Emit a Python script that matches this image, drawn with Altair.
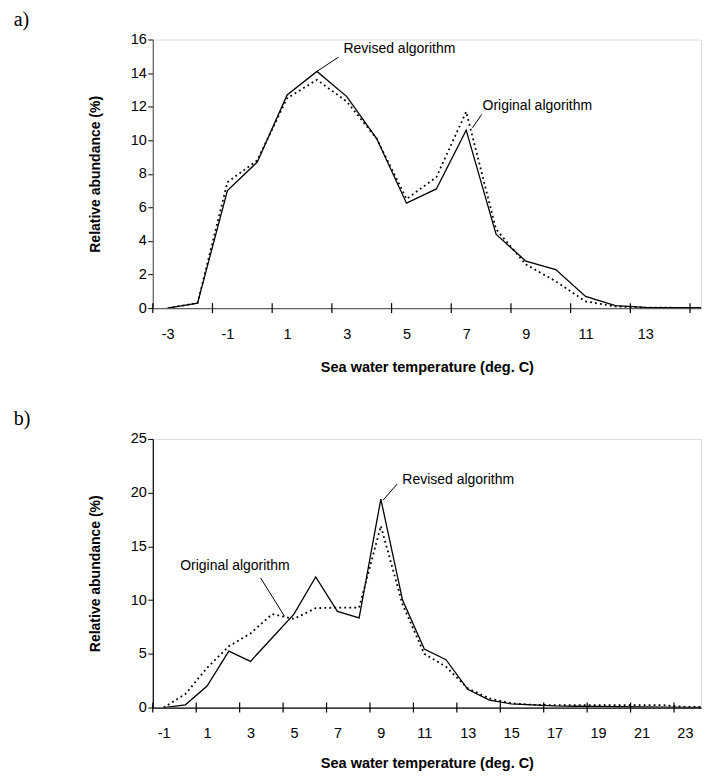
import altair as alt
import pandas as pd

# ---------------- Panel a ----------------
temp_a = list(range(-3, 16))
revised_a = [0.0, 0.3, 7.0, 8.7, 12.7, 14.1, 12.6, 10.1, 6.25, 7.1, 10.6, 4.4,
             2.8, 2.3, 0.7, 0.15, 0.05, 0.03, 0.02]
original_a = [0.0, 0.3, 7.5, 8.8, 12.5, 13.6, 12.3, 10.1, 6.5, 7.8, 11.7, 4.7,
              2.6, 1.6, 0.4, 0.1, 0.03, 0.02, 0.02]
xlabels_a = list(range(-3, 16, 2))
yticks_a = list(range(0, 17, 2))

ann_a_text = ["Revised algorithm", "Original algorithm"]
ann_a_t = [2.89, 7.55]
ann_a_v = [15.41, 12.03]
lead_a_t1 = [2.0, 7.21]
lead_a_v1 = [14.1, 10.74]
lead_a_t2 = [2.72, 7.52]
lead_a_v2 = [14.95, 11.54]

# ---------------- Panel b ----------------
temp_b = list(range(-1, 25))
revised_b = [0.0, 0.25, 2.0, 5.25, 4.3, 6.5, 8.7, 12.15, 8.95, 8.35, 19.4, 10.0,
             5.45, 4.45, 1.7, 0.7, 0.35, 0.25, 0.15, 0.12, 0.1, 0.08, 0.05, 0.03,
             0.02, 0.02]
original_b = [0.0, 1.25, 3.7, 5.7, 6.9, 8.7, 8.25, 9.25, 9.3, 9.3, 16.9, 9.6,
              5.0, 3.8, 1.8, 0.85, 0.4, 0.25, 0.22, 0.22, 0.22, 0.22, 0.22, 0.22,
              0.05, 0.05]
xlabels_b = list(range(-1, 24, 2))
yticks_b = list(range(0, 26, 5))

ann_b_text = ["Revised algorithm", "Original algorithm"]
ann_b_t = [9.99, -0.24]
ann_b_v = [21.19, 13.13]
lead_b_t1 = [9.1, 3.46]
lead_b_v1 = [19.3, 12.07]
lead_b_t2 = [9.75, 4.57]
lead_b_v2 = [20.8, 8.48]

FONT = "Liberation Sans"
XTITLE = "Sea water temperature (deg. C)"
YTITLE = "Relative abundance (%)"
FS = 14
PLOT_W = 549
PLOT_H = 269


def panel(temps, rev, orig, xlabels, yticks, ann, leads, letter, cat_w,
          dom_color, title_y):
    n = len(temps)
    df = pd.DataFrame({
        "t": temps + temps,
        "v": rev + orig,
        "s": ["Revised"] * n + ["Original"] * n,
    })
    lo = temps[0] - 0.5
    hi = lo + PLOT_W / cat_w          # right end cropped as in the source
    xscale = alt.Scale(domain=[lo, hi], nice=False, zero=False)
    yscale = alt.Scale(domain=[0, yticks[-1]], nice=False)

    xaxis = alt.Axis(
        values=xlabels, tickCount=200, ticks=False,
        labelExpr="'' + datum.value",
        domainColor=dom_color, domainWidth=1.2,
        labelOverlap=False, labelFlush=False, labelBound=False,
        labelPadding=26, labelBaseline="middle", labelFontSize=14.5,
        labelFont=FONT, labelColor="black", grid=False,
        titleFont=FONT, titleFontSize=14.5, titleFontWeight="bold",
        titleColor="black", titleBaseline="middle", titleY=title_y,
    )
    yaxis = alt.Axis(
        values=yticks, tickCount=200, format="d", labelOverlap=False,
        tickSize=5, tickColor="black", domainColor=dom_color, domainWidth=1.2,
        labelPadding=1.5, labelFontSize=14.5, labelFont=FONT, labelColor="black",
        grid=False,
        titleFont=FONT, titleFontSize=FS, titleFontWeight="bold",
        titleColor="black", titleBaseline="middle", titleX=-57,
        titleY=PLOT_H / 2, titleAngle=-90,
    )

    base = alt.Chart(df)
    solid = base.transform_filter(alt.datum.s == "Revised").mark_line(
        color="black", strokeWidth=1.3, clip=True).encode(
        x=alt.X("t:Q", scale=xscale, axis=xaxis, title=XTITLE),
        y=alt.Y("v:Q", scale=yscale, axis=yaxis, title=YTITLE))
    dotted = base.transform_filter(alt.datum.s == "Original").mark_line(
        color="black", strokeWidth=1.8, strokeDash=[1.8, 3.2], clip=True).encode(
        x="t:Q", y="v:Q")

    # category-boundary tick marks crossing the x axis (Excel style)
    tdf = pd.DataFrame({"t": [l - 0.5 for l in xlabels], "v": [0] * len(xlabels)})
    xticks = alt.Chart(tdf).mark_tick(
        orient="vertical", size=10, thickness=1.2, color="black", opacity=1
    ).encode(x="t:Q", y="v:Q")

    adf = pd.DataFrame({"t": ann[1], "v": ann[2], "label": ann[0]})
    texts = alt.Chart(adf).mark_text(
        align="left", baseline="middle", font=FONT, fontSize=FS, color="black"
    ).encode(x="t:Q", y="v:Q", text="label:N")

    ldf = pd.DataFrame({"t": leads[0], "v": leads[1], "t2": leads[2], "v2": leads[3]})
    rules = alt.Chart(ldf).mark_rule(color="black", strokeWidth=1).encode(
        x="t:Q", y="v:Q", x2="t2:Q", y2="v2:Q")

    let = alt.Chart(pd.DataFrame({"l": [letter]})).mark_text(
        align="left", baseline="top", font="Liberation Serif", fontSize=20,
        color="black"
    ).encode(x=alt.value(-139.3), y=alt.value(-30), text="l:N")

    return alt.layer(solid, dotted, xticks, rules, texts, let).properties(
        width=PLOT_W, height=PLOT_H)


pa = panel(temp_a, revised_a, original_a, xlabels_a, yticks_a,
           (ann_a_text, ann_a_t, ann_a_v),
           (lead_a_t1, lead_a_v1, lead_a_t2, lead_a_v2),
           "a)", 29.89, "#606060", 59.5)
pb = panel(temp_b, revised_b, original_b, xlabels_b, yticks_b,
           (ann_b_text, ann_b_t, ann_b_v),
           (lead_b_t1, lead_b_v1, lead_b_t2, lead_b_v2),
           "b)", 21.75, "#000000", 56.5)

chart = alt.vconcat(pa, pb, spacing=33).properties(
    padding={"left": 5, "top": 0, "right": 0, "bottom": 0}
).configure_view(stroke=None).configure(background="white")

chart.save("out.html", embed_options={"renderer": "svg", "actions": False})
